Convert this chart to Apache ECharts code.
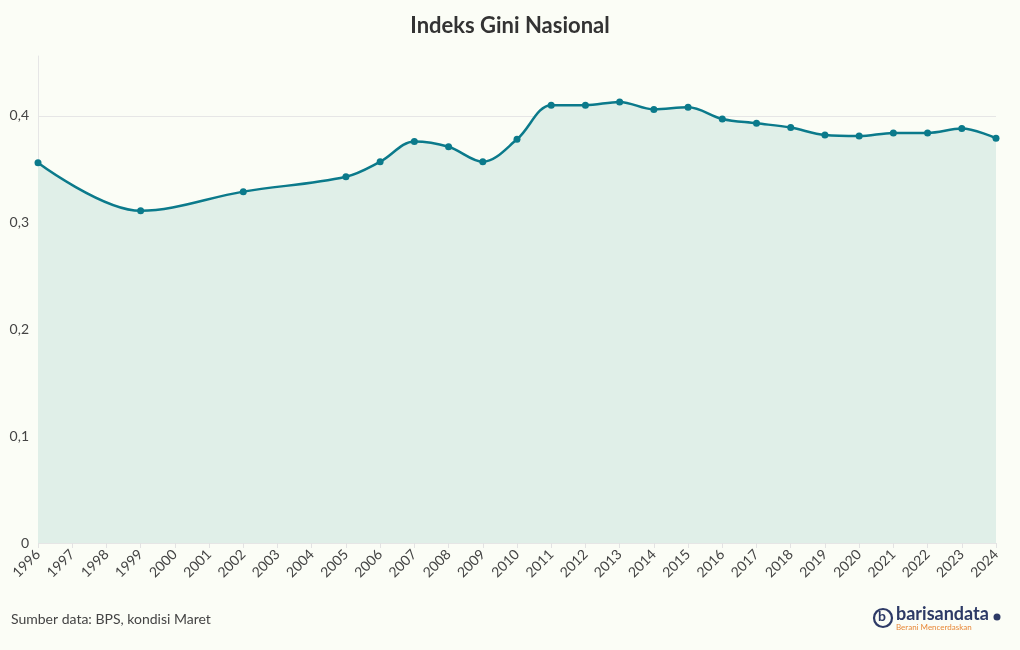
<!DOCTYPE html>
<html>
<head>
<meta charset="utf-8">
<script src="https://cdn.jsdelivr.net/npm/echarts@6/dist/echarts.min.js"></script>
<style>
  html, body { margin: 0; padding: 0; background: #fbfdf6; }
  #main { width: 1020px; height: 650px; }
</style>
</head>
<body>
<div id="main"></div>
<script>
// data tahun dan indeks gini (kondisi Maret)
var years = ['1996','1997','1998','1999','2000','2001','2002','2003','2004','2005',
  '2006','2007','2008','2009','2010','2011','2012','2013','2014','2015',
  '2016','2017','2018','2019','2020','2021','2022','2023','2024'];
var gini = [0.356, null, null, 0.311, null, null, 0.329, null, null, 0.343,
  0.357, 0.376, 0.371, 0.357, 0.378, 0.410, 0.410, 0.413, 0.406, 0.408,
  0.397, 0.393, 0.389, 0.382, 0.381, 0.384, 0.384, 0.388, 0.379];
var yTicks = [0, 0.1, 0.2, 0.3, 0.4];

var myChart = echarts.init(document.getElementById('main'));

var fontFam = 'Lato, "Open Sans", sans-serif';

var option = {
  backgroundColor: '#fbfdf6',
  title: {
    text: 'Indeks Gini Nasional',
    left: 'center',
    top: 10,
    textStyle: { fontFamily: fontFam, fontSize: 22, fontWeight: 'bold', color: '#333' }
  },
  grid: { left: 38, right: 24, top: 56, bottom: 107 },
  xAxis: {
    type: 'category',
    data: years,
    boundaryGap: false,
    axisLine: { show: false },
    axisTick: { show: true, alignWithLabel: true, length: 5, lineStyle: { color: '#e3e3e3' } },
    axisLabel: { rotate: 45, fontFamily: fontFam, fontSize: 14, color: '#444', margin: 9, interval: 0 },
    splitLine: { show: false }
  },
  yAxis: {
    type: 'value',
    min: 0,
    max: 0.456,
    interval: 0.1,
    axisLine: { show: true, lineStyle: { color: '#e6e6e6' } },
    axisTick: { show: false },
    axisLabel: {
      showMaxLabel: false,
      fontFamily: fontFam, fontSize: 14, color: '#444', margin: 9,
      formatter: function (v) {
        return yTicks.indexOf(Math.round(v * 10) / 10) >= 0 ? String(Math.round(v * 10) / 10).replace('.', ',') : '';
      }
    },
    splitLine: { show: true, showMaxLine: false, lineStyle: { color: '#e6e6e6' } }
  },
  series: [{
    type: 'line',
    data: gini,
    connectNulls: true,
    smooth: 0.35,
    symbol: 'circle',
    symbolSize: 7,
    lineStyle: { color: '#0b7a8b', width: 2.5 },
    itemStyle: { color: '#0b7a8b' },
    areaStyle: { color: '#e0efe8', opacity: 1 }
  }],
  graphic: [
    {
      type: 'text', left: 11, top: 612,
      style: { text: 'Sumber data: BPS, kondisi Maret', fontSize: 14, fontFamily: fontFam, fill: '#444' }
    },
    {
      type: 'circle', shape: { cx: 883, cy: 618, r: 9 },
      style: { fill: 'none', stroke: '#2d3a66', lineWidth: 2.2 }
    },
    {
      type: 'text', left: 878, top: 609,
      style: { text: 'b', fontSize: 14, fontWeight: 'bold', fontFamily: fontFam, fill: '#2d3a66' }
    },
    {
      type: 'text', left: 896, top: 605,
      style: { text: 'barisandata', fontSize: 18, fontWeight: 'bold', fontFamily: fontFam, fill: '#2d3a66' }
    },
    {
      type: 'circle', shape: { cx: 997, cy: 617, r: 3.5 },
      style: { fill: '#2d3a66' }
    },
    {
      type: 'text', left: 896, top: 623,
      style: { text: 'Berani Mencerdaskan', fontSize: 8, fontFamily: fontFam, fill: '#e8893a' }
    }
  ]
};

myChart.setOption(option);
</script>
</body>
</html>
